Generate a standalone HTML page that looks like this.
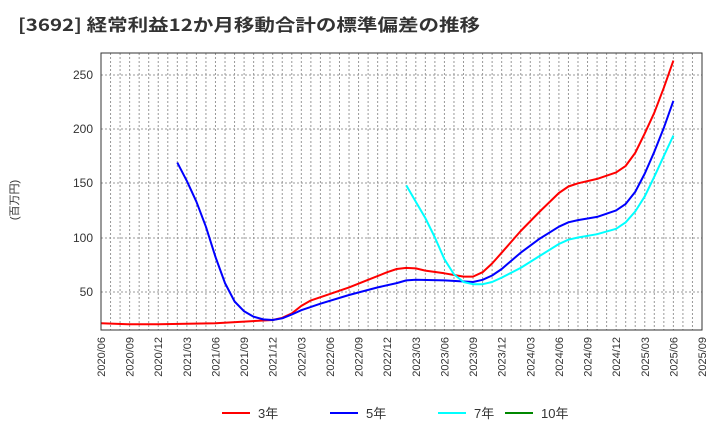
<!DOCTYPE html>
<html><head><meta charset="utf-8"><style>
body{margin:0;background:#fff;width:720px;height:440px;overflow:hidden}
svg{font-family:"Liberation Sans","Noto Sans CJK JP",sans-serif}
</style></head><body>
<svg id="s" width="720" height="440" xmlns="http://www.w3.org/2000/svg">
<rect width="720" height="440" fill="#fff"/>
<text x="18" y="31" font-size="17" font-weight="bold" fill="#333" font-family="'Noto Sans CJK JP',sans-serif" textLength="462" lengthAdjust="spacingAndGlyphs">[3692]  経常利益12か月移動合計の標準偏差の推移</text>
<text transform="translate(18,200) rotate(-90)" font-size="11" fill="#333" text-anchor="middle">(百万円)</text>
<g id="grid"></g>
<g font-size="12" fill="#333" text-anchor="end">
<text x="93" y="79">250</text><text x="93" y="133">200</text><text x="93" y="187">150</text><text x="93" y="242">100</text><text x="93" y="296">50</text>
</g>
<g id="xl" font-size="11" fill="#333" text-anchor="end"></g>
<g id="lines" fill="none" stroke-width="2" stroke-linejoin="round"></g>
<rect x="101" y="53" width="601" height="277" fill="none" stroke="#333" stroke-width="1"/>
<g font-size="13" fill="#333">
<line x1="222" y1="413" x2="250" y2="413" stroke="#f00" stroke-width="2"/><text x="258" y="418">3年</text>
<line x1="330" y1="413" x2="358" y2="413" stroke="#00f" stroke-width="2"/><text x="366" y="418">5年</text>
<line x1="438" y1="413" x2="466" y2="413" stroke="#0ff" stroke-width="2"/><text x="474" y="418">7年</text>
<line x1="505" y1="413" x2="533" y2="413" stroke="#080" stroke-width="2"/><text x="541" y="418">10年</text>
</g>
</svg>
<script>
function X(m){return 101+m*601/63}function Y(v){return 346-1.085*v}
var g=document.getElementById('grid'),h='';
for(var m=1;m<63;m++){h+='<line x1="'+X(m)+'" y1="53" x2="'+X(m)+'" y2="330" stroke="#999" stroke-width="1" stroke-dasharray="2,2"/>';}
[75,129,183,238,292].forEach(function(y){h+='<line x1="101" y1="'+y+'" x2="702" y2="'+y+'" stroke="#999" stroke-width="1" stroke-dasharray="2,2"/>';});
g.innerHTML=h;
var labs=["2020/06","2020/09","2020/12","2021/03","2021/06","2021/09","2021/12","2022/03","2022/06","2022/09","2022/12","2023/03","2023/06","2023/09","2023/12","2024/03","2024/06","2024/09","2024/12","2025/03","2025/06","2025/09"];
var xl='';labs.forEach(function(l,k){var x=X(3*k)+4;xl+='<text transform="translate('+x+',337) rotate(-90)">'+l+'</text>';});
document.getElementById('xl').innerHTML=xl;
var red=[[0,21],[3,20],[6,20],[9,20.5],[12,21],[15,22.5],[18,24],[19,26],[20,30],[21,37],[22,42],[24,48],[26,54],[28,61],[30,68],[31,71],[32,72],[33,71.5],[34,69.5],[36,67],[38,64],[39,64],[40,68],[41,76],[42,86],[44,106],[46,124],[48,141],[49,147],[50,150],[52,154],[54,160],[55,166],[56,178],[57,196],[58,215],[59,238],[60,263]];
var blue=[[8,169],[9,152],[10,133],[11,110],[12,82],[13,58],[14,41],[15,32],[16,27],[17,24.5],[18,24],[19,25.5],[20,29],[21,33],[23,39],[26,47],[29,54],[31,58],[32,60.5],[33,61],[36,60.5],[39,59],[40,61],[41,65],[42,71],[44,86],[46,99],[48,110],[49,114],[50,116],[52,119],[54,125],[55,131],[56,142],[57,159],[58,179],[59,201],[60,226]];
var cyan=[[32,148],[33,133],[34,118],[35,100],[36,80],[37,66],[38,59],[39,57],[40,57],[41,59],[42,63],[44,72],[46,83],[48,94],[49,98],[50,100],[52,103],[54,108],[55,114],[56,124],[57,138],[58,156],[59,175],[60,194]];
var L='';[[red,'#f00'],[blue,'#00f'],[cyan,'#0ff']].forEach(function(s){L+='<polyline stroke="'+s[1]+'" points="'+s[0].map(function(p){return X(p[0]).toFixed(1)+','+Y(p[1]).toFixed(1)}).join(' ')+'"/>';});
document.getElementById('lines').innerHTML=L;
</script>
</body></html>
